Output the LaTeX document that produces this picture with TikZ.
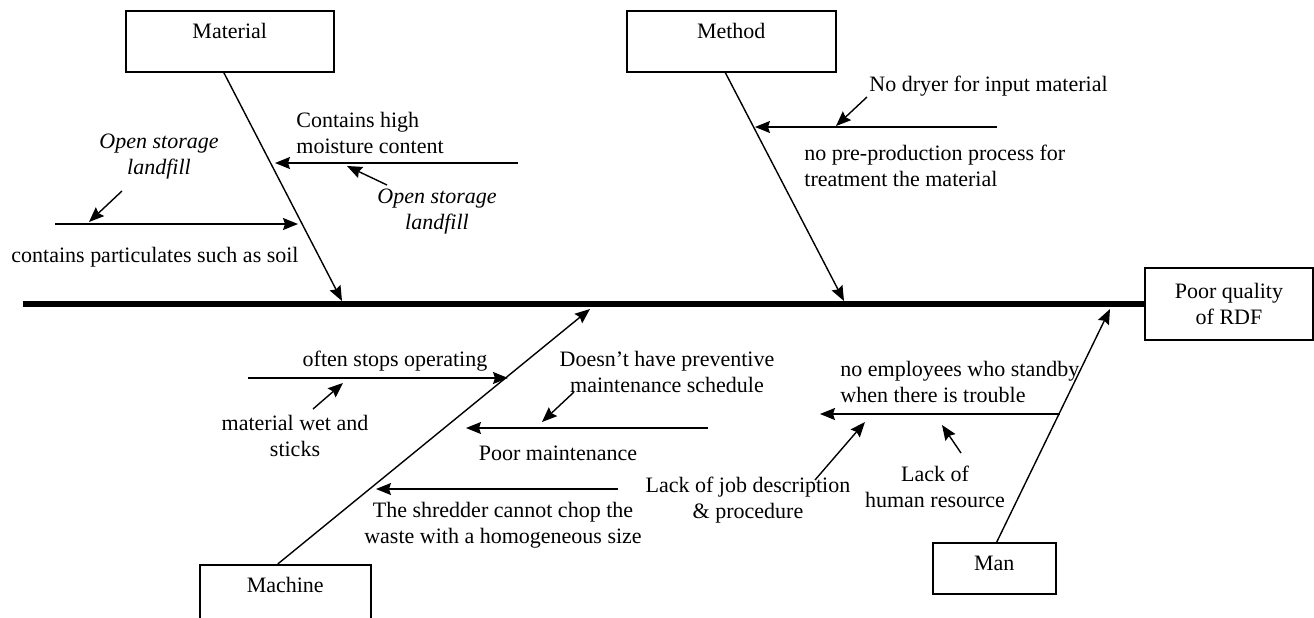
\documentclass[tikz,border=0pt]{standalone}
\usepackage{fontspec}
\setmainfont{Liberation Serif}
\usetikzlibrary{positioning,arrows.meta}

\begin{document}
\begin{tikzpicture}[x=0.5pt, y=-0.5pt, >={Stealth[length=7.5pt,width=6pt,inset=1pt]},
                    every node/.style={font=\fontsize{11pt}{13pt}\selectfont, inner sep=0pt},
                    catbox/.style={draw, line width=0.75pt, text height=14pt, text depth=16.5pt},
                    bone/.style={->, line width=0.7pt},
                    cause/.style={->, line width=0.7pt},
                    ital/.style={align=center, font=\fontsize{11pt}{13pt}\selectfont\itshape}
                    ]
    \useasboundingbox (0,0) rectangle (1314,617);
    \clip (0,0) rectangle (1314,617);

    \node[catbox, anchor=north west, minimum width=104pt] at (125,10) (material) {Material};
    \node[catbox, anchor=north west, minimum width=104.5pt] at (626,10) (method) {Method};
    \node[catbox, anchor=north west, minimum width=85.5pt] at (199,564) (machine) {Machine};
    \node[catbox, anchor=north west, minimum width=61.5pt, text depth=11.5pt] at (932,542) (man) {Man};
    \node[draw, line width=0.75pt, align=center, minimum width=84pt, minimum height=36pt] at (1229,304) (effect) {Poor quality\\of RDF};

    \coordinate (tail) at (23,304);
    \draw[line width=3pt] (tail) -- (effect.west);

    \coordinate (matTip) at (342,301);
    \coordinate (metTip) at (844,301);
    \coordinate (macTip) at (590,309);
    \coordinate (manTip) at (1110,309);
    \draw[bone] ([xshift=-3pt]material.south) -- (matTip);
    \draw[bone] ([xshift=-3pt]method.south) -- (metTip);
    \draw[bone] ([xshift=-3.75pt]machine.north) -- (macTip);
    \draw[bone] ([xshift=1.25pt]man.north) -- (manTip);

    % material
    \node[align=left, anchor=west] at (296,132.5) (moist) {Contains high\\moisture content};
    \node[ital] at (437,211.5) (open1) {Open storage\\landfill};
    \node[ital] at (159,157) (open2) {Open storage\\landfill};
    \node at (155,257) (soil) {contains particulates such as soil};
    \coordinate (a1) at (518,163);
    \coordinate (a1t) at (275,163);
    \coordinate (a2) at (55,224);
    \coordinate (a2t) at (298,224);
    \coordinate (s1) at (387,185);
    \coordinate (s1t) at (347,166);
    \coordinate (s2) at (122,191);
    \coordinate (s2t) at (89,222);
    \draw[cause] (a1) -- (a1t);
    \draw[cause] (a2) -- (a2t);
    \draw[cause] (s1) -- (s1t);
    \draw[cause] (s2) -- (s2t);

    % method
    \node[anchor=west] at (869,86) (dryer) {No dryer for input material};
    \node[align=left, anchor=west] at (804,165.5) (prep) {no pre-production process for\\treatment the material};
    \coordinate (b1) at (997,127);
    \coordinate (b1t) at (755,127);
    \coordinate (s3) at (867,97);
    \coordinate (s3t) at (836,126);
    \draw[cause] (b1) -- (b1t);
    \draw[cause] (s3) -- (s3t);

    % machine
    \node at (395,361) (stops) {often stops operating};
    \node[align=center] at (295,435.5) (wet) {material wet and\\sticks};
    \node[align=center] at (667,371.5) (sched) {Doesn’t have preventive\\maintenance schedule};
    \node at (558,453) (maint) {Poor maintenance};
    \node[align=center] at (503,525) (shred) {The shredder cannot chop the\\waste with a homogeneous size};
    \coordinate (c1) at (248,378);
    \coordinate (c1t) at (508,378);
    \coordinate (c2) at (708,428);
    \coordinate (c2t) at (466,428);
    \coordinate (c3) at (618,489);
    \coordinate (c3t) at (376,489);
    \coordinate (s4) at (313,409);
    \coordinate (s4t) at (343,383);
    \coordinate (s5) at (574,392);
    \coordinate (s5t) at (542,422);
    \draw[cause] (c1) -- (c1t);
    \draw[cause] (c2) -- (c2t);
    \draw[cause] (c3) -- (c3t);
    \draw[cause] (s4) -- (s4t);
    \draw[cause] (s5) -- (s5t);

    % man
    \node[align=left, anchor=west] at (840,382) (standby) {no employees who standby\\when there is trouble};
    \node[align=center] at (748,500.5) (jobdesc) {Lack of job description\\\& procedure};
    \node[align=center] at (935,486.5) (human) {Lack of\\human resource};
    \coordinate (d1) at (1060,414);
    \coordinate (d1t) at (820,414);
    \coordinate (s6) at (815,480);
    \coordinate (s6t) at (865,422);
    \coordinate (s7) at (961,453);
    \coordinate (s7t) at (942,425);
    \draw[cause] (d1) -- (d1t);
    \draw[cause] (s6) -- (s6t);
    \draw[cause] (s7) -- (s7t);
\end{tikzpicture}
\end{document}
